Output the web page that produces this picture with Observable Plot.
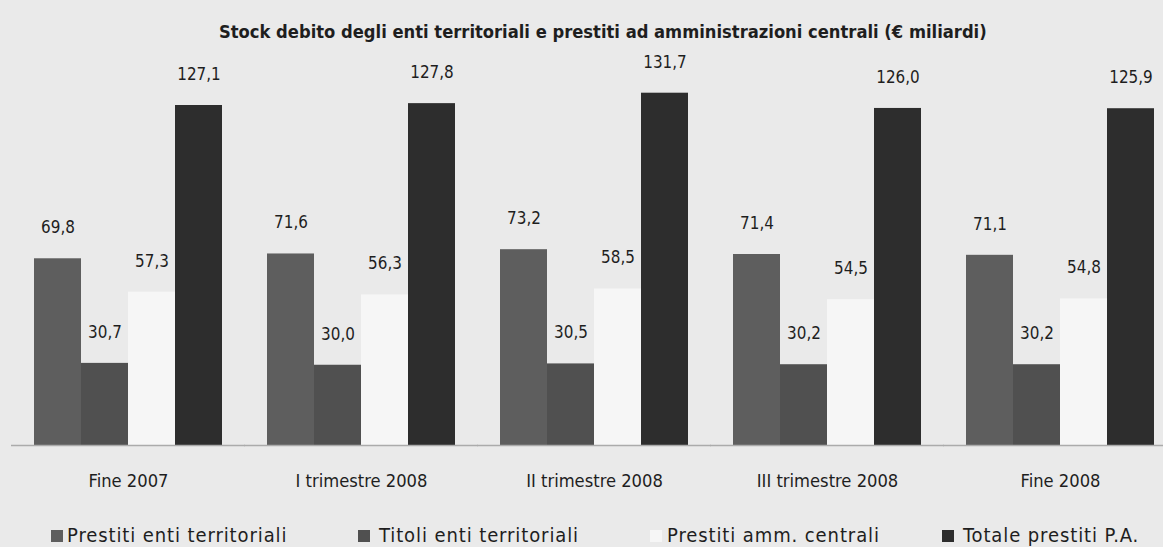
<!DOCTYPE html>
<html>
<head>
<meta charset="utf-8">
<script src="https://cdn.jsdelivr.net/npm/d3@7"></script>
<script src="https://cdn.jsdelivr.net/npm/@observablehq/plot@0.6"></script>
<style>
  html, body { margin: 0; padding: 0; }
  body { width: 1163px; height: 547px; overflow: hidden; background: #eaeaea; font-family: "DejaVu Sans Condensed", "DejaVu Sans", sans-serif; font-stretch: condensed; color: #1e1e1e; position: relative; }
  #title { position: absolute; left: 219px; top: 21px; font-size: 18.2px; font-weight: bold; white-space: nowrap; }
  #chart { position: absolute; left: 0; top: 48px; }
  .leg-sq { position: absolute; width: 12px; height: 12px; }
  .leg-tx { position: absolute; font-size: 20px; letter-spacing: 0.9px; line-height: 20px; white-space: nowrap; }
</style>
</head>
<body>
<div id="title">Stock debito degli enti territoriali e prestiti ad amministrazioni centrali (€ miliardi)</div>
<div id="chart"></div>
<div id="legend"></div>
<script>
// ---- data ----
const categories = ["Fine 2007", "I trimestre 2008", "II trimestre 2008", "III trimestre 2008", "Fine 2008"];
const series = ["Prestiti enti territoriali", "Titoli enti territoriali", "Prestiti amm. centrali", "Totale prestiti P.A."];
const prestitiEnti = [69.8, 71.6, 73.2, 71.4, 71.1];
const titoliEnti = [30.7, 30.0, 30.5, 30.2, 30.2];
const prestitiAmm = [57.3, 56.3, 58.5, 54.5, 54.8];
const totalePA = [127.1, 127.8, 131.7, 126.0, 125.9];

// ---- styles ----
const colors = ["#5e5e5e", "#505050", "#f6f6f6", "#2d2d2d"];
const legendSquareLeft = [51, 358, 650, 942];
const legendTextLeft = [67, 379, 667, 963];

const valuesBySeries = [prestitiEnti, titoliEnti, prestitiAmm, totalePA];
const data = categories.flatMap((c, i) =>
  series.map((s, j) => ({category: c, series: s, value: valuesBySeries[j][i]}))
);
const fmt = v => v.toFixed(1).replace(".", ",");

const chart = Plot.plot({
  width: 1163,
  height: 455,
  marginLeft: 33,
  marginRight: 8,
  marginTop: 22.5,
  marginBottom: 58,
  style: {background: "transparent", fontFamily: "'DejaVu Sans Condensed', 'DejaVu Sans'", fontStretch: "condensed", fontSize: "18.2px", color: "#1e1e1e"},
  fx: {domain: categories, paddingInner: 0.195, paddingOuter: 0, axis: "bottom", tickSize: 0, tickPadding: 29, label: null},
  x: {domain: series, padding: 0, axis: null},
  y: {domain: [0, 140], axis: null},
  color: {domain: series, range: colors},
  marks: [
    Plot.barY(data, {fx: "category", x: "series", y: "value", fill: "series"}),
    Plot.ruleY([0], {stroke: "#ababab", strokeWidth: 1.5, insetLeft: -23, insetRight: -23}),
    Plot.text(data, {fx: "category", x: "series", y: "value", text: d => fmt(d.value), dy: -31, fontSize: 16.9, fill: "#1e1e1e"})
  ]
});
document.getElementById("chart").appendChild(chart);

// ---- legend ----
const legend = document.getElementById("legend");
series.forEach((s, i) => {
  const sq = document.createElement("div");
  sq.className = "leg-sq";
  sq.style.left = legendSquareLeft[i] + "px";
  sq.style.top = "530px";
  sq.style.background = colors[i];
  legend.appendChild(sq);
  const tx = document.createElement("div");
  tx.className = "leg-tx";
  tx.style.left = legendTextLeft[i] + "px";
  tx.style.top = "525px";
  tx.textContent = s;
  legend.appendChild(tx);
});
</script>
</body>
</html>
